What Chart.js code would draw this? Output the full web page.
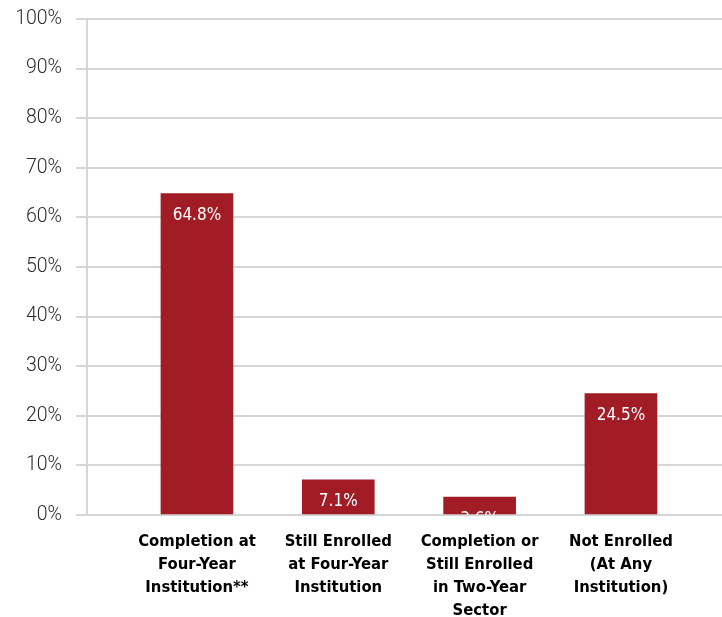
<!DOCTYPE html>
<html>
<head>
<meta charset="utf-8">
<script src="https://cdn.jsdelivr.net/npm/chart.js@4"></script>
<style>
  html, body { margin: 0; padding: 0; background: #fff; }
  #wrap { width: 722px; height: 617px; }
</style>
</head>
<body>
<div id="wrap"><canvas id="chart" width="722" height="617"></canvas></div>
<script>
const categories = [
  ["Completion at", "Four-Year", "Institution**"],
  ["Still Enrolled", "at Four-Year", "Institution"],
  ["Completion or", "Still Enrolled", "in Two-Year", "Sector"],
  ["Not Enrolled", "(At Any", "Institution)"]
];
const shares = [64.8, 7.1, 3.6, 24.5];
const yTicks = [0, 10, 20, 30, 40, 50, 60, 70, 80, 90, 100];

const barColor = "#a21c25";
const gridColor = "#d6d6d6";

// labels inside the top of each bar, clipped at the plot area
const barLabels = {
  id: "barLabels",
  afterDatasetsDraw(chart) {
    const { ctx, chartArea } = chart;
    const meta = chart.getDatasetMeta(0);
    ctx.save();
    ctx.beginPath();
    ctx.rect(chartArea.left, chartArea.top, chartArea.right - chartArea.left, chartArea.bottom - chartArea.top);
    ctx.clip();
    ctx.fillStyle = "#ffffff";
    ctx.font = "300 17px 'DejaVu Sans Condensed', 'Roboto', sans-serif";
    ctx.textAlign = "center";
    ctx.textBaseline = "middle";
    meta.data.forEach((bar, i) => {
      ctx.fillText(shares[i].toFixed(1) + "%", bar.x, bar.y + 22);
    });
    ctx.restore();
  }
};

window.addEventListener("load", setup);
function setup() {
  const ctx = document.getElementById("chart").getContext("2d");
  new Chart(ctx, {
    type: "bar",
    data: {
      datasets: [{
        data: shares.map((v, i) => ({ x: i + 1, y: v })),
        backgroundColor: barColor,
        borderWidth: 0,
        barThickness: 72
      }]
    },
    plugins: [barLabels],
    options: {
      responsive: false,
      animation: false,
      layout: { padding: { top: 19, right: 0, left: 0, bottom: 0 } },
      plugins: { legend: { display: false }, tooltip: { enabled: false } },
      scales: {
        x: {
          type: "linear",
          offset: false,
          min: 0.222,
          max: 4.715,
          afterBuildTicks: (s) => { s.ticks = categories.map((c, i) => ({ value: i + 1 })); },
          afterFit: (s) => { s.height = 102; },
          grid: { display: false, drawTicks: false, offset: false },
          border: { display: false },
          ticks: {
            autoSkip: false,
            maxRotation: 0,
            padding: 15,
            color: "#000",
            font: { family: "'DejaVu Sans Condensed', sans-serif", size: 16.5, weight: "bold", lineHeight: 1.39 },
            callback: (v) => categories[v - 1] || ""
          }
        },
        y: {
          min: 0,
          max: 100,
          afterBuildTicks: (s) => { s.ticks = yTicks.map(v => ({ value: v })); },
          afterFit: (s) => { s.width = 87; s.paddingTop = 0; s.paddingBottom = 0; },
          grid: { color: gridColor, lineWidth: 2, tickLength: 11 },
          border: { color: gridColor, width: 2 },
          ticks: {
            padding: 14,
            color: "#2b2b2b",
            font: { family: "Roboto, 'Liberation Sans', sans-serif", size: 19.5, weight: 300 },
            callback: (v) => v + "%"
          }
        }
      }
    }
  });
}
</script>
</body>
</html>
